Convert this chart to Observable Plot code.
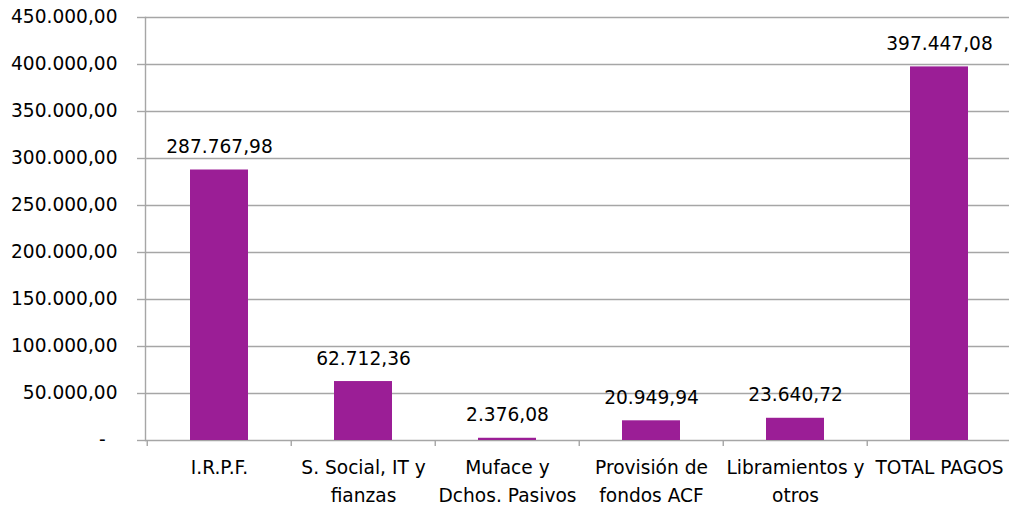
<!DOCTYPE html>
<html>
<head>
<meta charset="utf-8">
<script src="https://cdn.jsdelivr.net/npm/d3@7"></script>
<script src="https://cdn.jsdelivr.net/npm/@observablehq/plot@0.6"></script>
<style>
  html, body { margin: 0; padding: 0; background: #fff; }
  #chart svg { display: block; }
</style>
</head>
<body>
<div id="chart"></div>
<script>
const categories = [
  "I.R.P.F.",
  "S. Social, IT y\nfianzas",
  "Muface y\nDchos. Pasivos",
  "Provisión de\nfondos ACF",
  "Libramientos y\notros",
  "TOTAL PAGOS"
];
const values = [287767.98, 62712.36, 2376.08, 20949.94, 23640.72, 397447.08];
const yTicks = [0, 50000, 100000, 150000, 200000, 250000, 300000, 350000, 400000, 450000];

const data = categories.map((c, i) => ({category: c, value: values[i]}));

const es = d3.formatLocale({decimal: ",", thousands: ".", grouping: [3], currency: ["", " €"]});
const fmt = es.format(",.2f");

const W = 1009, H = 509;
const xRange = [145, 1012];
const half = (xRange[1] - xRange[0]) / categories.length / 2;
const grey = "#A6A6A6";
const font = "DejaVu Sans, Verdana, sans-serif";
const fs = 18.6;

const chart = Plot.plot({
  width: W,
  height: H,
  marginLeft: 145,
  marginRight: 0,
  marginTop: 17,
  marginBottom: 69,
  style: {fontFamily: font, fontSize: fs + "px", color: "#000", background: "#fff"},
  x: {domain: categories, range: xRange, paddingInner: 0.6, paddingOuter: 0.3, label: null},
  y: {domain: [0, 450000], label: null},
  marks: [
    Plot.gridY(yTicks, {stroke: grey, strokeOpacity: 1, strokeWidth: 1.4}),
    Plot.axisY({
      ticks: yTicks,
      tickSize: 8,
      tickPadding: 20,
      stroke: grey,
      strokeWidth: 1.4,
      fontSize: fs,
      fill: "#000",
      label: null,
      tickFormat: d => d === 0 ? "-\u00a0\u00a0" : fmt(d)
    }),
    Plot.frame({anchor: "left", stroke: grey, strokeWidth: 1.4}),
    Plot.barY(data, {x: "category", y: "value", fill: "#9B1E96"}),
    Plot.axisX({
      ticks: categories,
      tickSize: 6,
      stroke: grey,
      strokeWidth: 1.4,
      dx: -half,
      tickFormat: () => "",
      label: null
    }),
    Plot.axisX({
      ticks: categories,
      tickSize: 0,
      tickPadding: 14,
      lineHeight: 1.5,
      fontSize: fs,
      fill: "#000",
      label: null,
      tickFormat: d => d
    }),
    Plot.text(data, {
      x: "category",
      y: "value",
      text: d => fmt(d.value),
      dy: -23,
      fontSize: fs,
      fill: "#000"
    })
  ]
});
document.getElementById("chart").appendChild(chart);
</script>
</body>
</html>
